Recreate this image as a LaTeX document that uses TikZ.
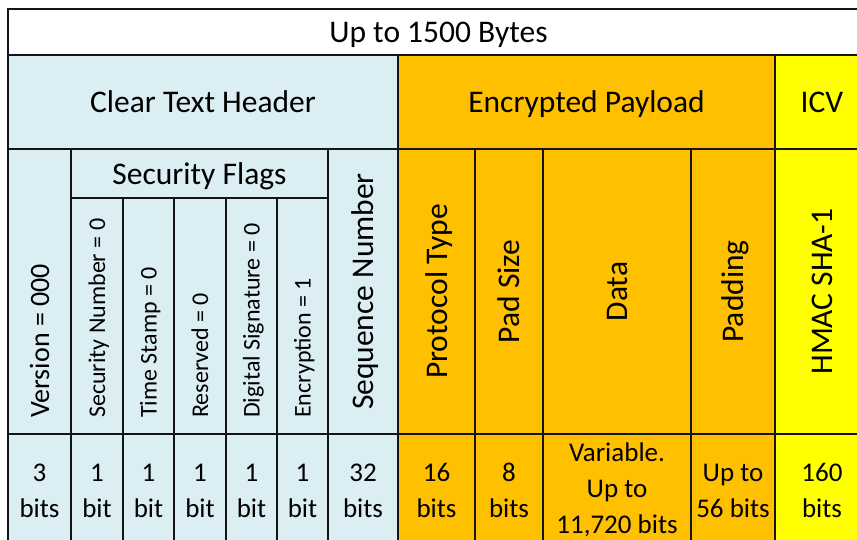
\documentclass[tikz,border=0pt]{standalone}
\usepackage{fontspec}
\setmainfont{Carlito}
\definecolor{hdrblue}{RGB}{219,238,244}
\definecolor{payorange}{RGB}{255,192,0}
\definecolor{icvyellow}{RGB}{255,255,0}
\definecolor{gridline}{RGB}{20,20,20}
% strut with the ascent/descent of the font, so stacked lines centre like a spreadsheet cell
\newcommand\cellstrut{\rule[-0.269em]{0pt}{1.221em}}
\tikzset{
  cellbox/.style={draw=gridline, line width=1.8pt},
  lbl/.style={inner sep=0pt, text=black},
  big/.style={lbl, font=\fontsize{31.5}{38}\selectfont, text height=30pt, text depth=8.5pt},
  mid/.style={lbl, font=\fontsize{28}{34}\selectfont, text height=26.7pt, text depth=7.5pt},
  small/.style={lbl, font=\fontsize{24}{30}\selectfont, text height=22.9pt, text depth=6.5pt},
  sizes/.style={inner sep=0pt, align=center, text=black, font=\fontsize{27}{36}\selectfont},
  vert/.style={rotate=90},
  vertlow/.style={rotate=90, anchor=west},
}
\begin{document}
\begin{tikzpicture}[x=1pt,y=-1pt]
\useasboundingbox (0,0) rectangle (857,540);
\clip (0,0) rectangle (857,540);

% ---- frame row and section headers
\filldraw[cellbox, fill=white]      (8,9)    rectangle (869,55);
\filldraw[cellbox, fill=hdrblue]    (8,55)   rectangle (398,149);
\filldraw[cellbox, fill=payorange]  (398,55) rectangle (775,149);
\filldraw[cellbox, fill=icvyellow]  (775,55) rectangle (869,149);

% ---- clear text header fields
\filldraw[cellbox, fill=hdrblue] (8,149)   rectangle (71,434);
\filldraw[cellbox, fill=hdrblue] (71,149)  rectangle (328,198);
\foreach \xa/\xb in {71/123,123/174,174/226,226/277,277/328}
  \filldraw[cellbox, fill=hdrblue] (\xa,198) rectangle (\xb,434);
\filldraw[cellbox, fill=hdrblue] (328,149) rectangle (398,434);

% ---- encrypted payload and ICV fields
\foreach \xa/\xb in {398/475,475/543,543/691,691/775}
  \filldraw[cellbox, fill=payorange] (\xa,149) rectangle (\xb,434);
\filldraw[cellbox, fill=icvyellow] (775,149) rectangle (869,434);

% ---- field size row
\foreach \xa/\xb in {8/71,71/123,123/174,174/226,226/277,277/328,328/398}
  \filldraw[cellbox, fill=hdrblue] (\xa,434) rectangle (\xb,548);
\foreach \xa/\xb in {398/475,475/543,543/691,691/775}
  \filldraw[cellbox, fill=payorange] (\xa,434) rectangle (\xb,548);
\filldraw[cellbox, fill=icvyellow] (775,434) rectangle (869,548);

% ---- header texts
\node[big] (total) at (438.5,32)  {Up to 1500 Bytes};
\node[big] (clear) at (203,102)   {Clear Text Header};
\node[big] (enc)   at (586.5,102) {Encrypted Payload};
\node[big] (icv)   at (822,102)   {ICV};
\node[big] (flags) at (199.5,173.5) {Security Flags};

% ---- field names
\node[mid, vertlow]   (version) at (39.5,418)  {Version = 000};
\node[small, vertlow] (secnum)  at (97,418)    {Security Number = 0};
\node[small, vertlow] (tstamp)  at (148.5,418) {Time Stamp = 0};
\node[small, vertlow] (resv)    at (200,418)   {Reserved = 0};
\node[small, vertlow] (digsig)  at (251.5,418) {Digital Signature = 0};
\node[small, vertlow] (encflag) at (302.5,418) {Encryption = 1};
\node[big, vert] (seq)     at (363,291.5)   {Sequence Number};
\node[big, vert] (proto)   at (436.5,291.5) {Protocol Type};
\node[big, vert] (padsize) at (509,291.5)   {Pad Size};
\node[big, vert] (data)    at (617,291.5)   {Data};
\node[big, vert] (padding) at (733,291.5)   {Padding};
\node[big, vert] (hmac)    at (822,291.5)   {HMAC SHA-1};

% ---- field sizes
\node[sizes] (s1)  at (39.5,490)  {\cellstrut 3\\\cellstrut bits};
\node[sizes] (s2)  at (97,490)    {\cellstrut 1\\\cellstrut bit};
\node[sizes] (s3)  at (148.5,490) {\cellstrut 1\\\cellstrut bit};
\node[sizes] (s4)  at (200,490)   {\cellstrut 1\\\cellstrut bit};
\node[sizes] (s5)  at (251.5,490) {\cellstrut 1\\\cellstrut bit};
\node[sizes] (s6)  at (302.5,490) {\cellstrut 1\\\cellstrut bit};
\node[sizes] (s7)  at (363,490)   {\cellstrut 32\\\cellstrut bits};
\node[sizes] (s8)  at (436.5,490) {\cellstrut 16\\\cellstrut bits};
\node[sizes] (s9)  at (509,490)   {\cellstrut 8\\\cellstrut bits};
\node[sizes] (s10) at (617,488)   {\cellstrut Variable.\\\cellstrut Up to\\\cellstrut 11,720 bits};
\node[sizes] (s11) at (733,490)   {\cellstrut Up to\\\cellstrut 56 bits};
\node[sizes] (s12) at (822,490)   {\cellstrut 160\\\cellstrut bits};
\end{tikzpicture}
\end{document}
